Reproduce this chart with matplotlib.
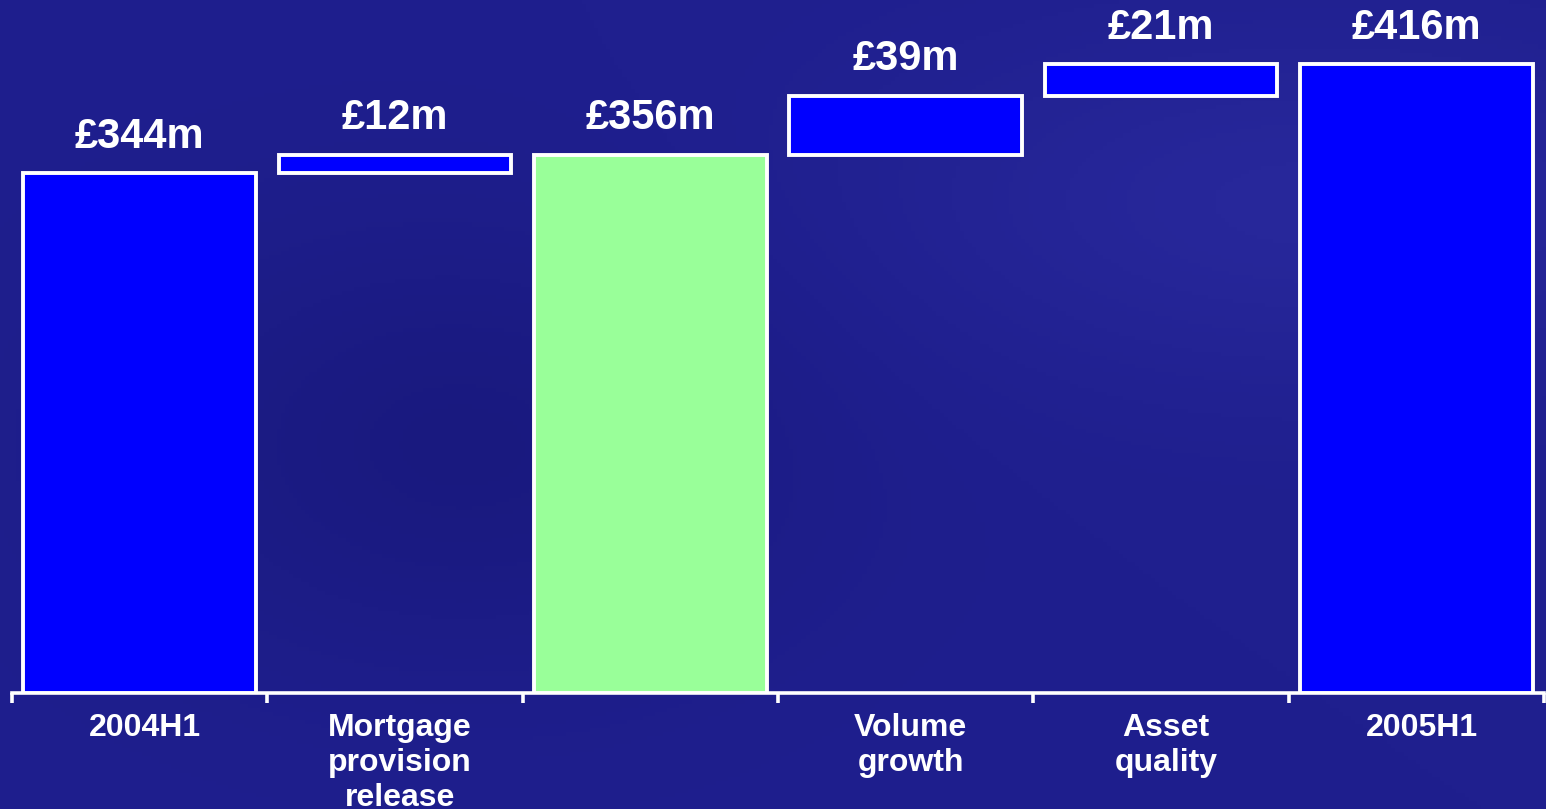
import numpy as np
import matplotlib.pyplot as plt
from matplotlib.colors import LinearSegmentedColormap

plt.rcParams['font.family'] = ['Liberation Sans', 'DejaVu Sans']

categories = ['2004H1', 'Mortgage\nprovision\nrelease', '', 'Volume\ngrowth', 'Asset\nquality', '2005H1']
values = [344, 12, 356, 39, 21, 416]
kinds = ['total', 'step', 'subtotal', 'step', 'step', 'total']
value_labels = ['£344m', '£12m', '£356m', '£39m', '£21m', '£416m']

# waterfall bases: steps start where the running total ended
bottoms = []
running = 0
for v, k in zip(values, kinds):
    if k == 'step':
        bottoms.append(running)
        running += v
    else:
        bottoms.append(0)
        running = v

fill = {'total': '#0000ff', 'step': '#0000ff', 'subtotal': '#99ff99'}

fig = plt.figure(figsize=(15.46, 8.09), dpi=100)

# dark blue backdrop with soft shading
bg = fig.add_axes([0, 0, 1, 1])
yy, xx = np.mgrid[0:1:200j, 0:1:380j]
shade = 0.5 + 0.35 * np.exp(-((xx - 0.85) ** 2 / 0.08 + (yy - 0.25) ** 2 / 0.05)) \
        - 0.3 * np.exp(-((xx - 0.3) ** 2 / 0.05 + (yy - 0.55) ** 2 / 0.08))
cmap = LinearSegmentedColormap.from_list('navy', ['#161676', '#1f1f8e', '#2b2ba0'])
bg.imshow(shade, cmap=cmap, vmin=0, vmax=1, aspect='auto', extent=[0, 1, 0, 1], origin='upper')
bg.axis('off')

ax = fig.add_axes([12 / 1546, 116 / 809, 1532 / 1546, 693 / 809])
ax.patch.set_alpha(0)
x = np.arange(len(values))
ax.bar(x, values, bottom=bottoms, width=0.91,
       color=[fill[k] for k in kinds], edgecolor='white', linewidth=2.8, zorder=3)

for xi, v, b, lab in zip(x, values, bottoms, value_labels):
    ax.text(xi, b + v + 11, lab, ha='center', va='bottom', color='white',
            fontsize=30, fontweight='bold', clip_on=False)

ax.set_xlim(-0.5, len(values) - 0.5)
ax.set_ylim(0, 458.6)

for s in ['top', 'right', 'left']:
    ax.spines[s].set_visible(False)
ax.spines['bottom'].set_color('white')
ax.spines['bottom'].set_linewidth(2.6)
ax.set_yticks([])
ax.set_xticks(np.arange(len(values) + 1) - 0.5)
ax.set_xticklabels([])
ax.tick_params(axis='x', direction='out', length=7, width=2.6, color='white')

for xi, cat in zip(x, categories):
    ax.text(xi + 0.02, -13, cat, ha='center', va='top', color='white', fontsize=23,
            fontweight='bold', linespacing=1.22, clip_on=False)

fig.savefig('out.png', dpi=100)
